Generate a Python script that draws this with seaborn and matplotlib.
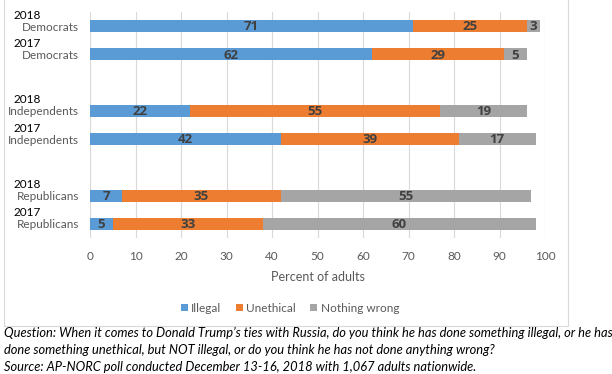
import matplotlib
matplotlib.use("Agg")
import matplotlib.pyplot as plt
import matplotlib.transforms as mtransforms
from matplotlib.patches import Patch, Rectangle
import seaborn as sns
import pandas as pd

# data (top to bottom), blanks are spacer rows
groups = ["Democrats", "Democrats", "", "Independents", "Independents", "", "Republicans", "Republicans"]
years = ["2018", "2017", "", "2018", "2017", "", "2018", "2017"]
illegal = [71, 62, None, 22, 42, None, 7, 5]
unethical = [25, 29, None, 55, 39, None, 35, 33]
nothing = [3, 5, None, 19, 17, None, 55, 60]

series = ["Illegal", "Unethical", "Nothing wrong"]
colors = ["#5B9BD5", "#ED7D31", "#A5A5A5"]

slots = [f"r{i}" for i in range(len(groups))]
df = pd.DataFrame({"slot": slots, "illegal": illegal, "unethical": unethical, "nothing": nothing}).dropna()
df["c1"] = df["illegal"]
df["c2"] = df["illegal"] + df["unethical"]
df["c3"] = df["c2"] + df["nothing"]

sns.set_theme(style="white")
plt.rcParams["font.family"] = ["Lato", "DejaVu Sans"]

fig = plt.figure(figsize=(6.12, 3.74), dpi=100)
ax = fig.add_axes([90 / 612, 1 - 238 / 374, 455 / 612, 226 / 374])

# stacked bars: draw cumulative totals back to front
for col, c in zip(["c3", "c2", "c1"], colors[::-1]):
    sns.barplot(data=df, x=col, y="slot", order=slots, orient="h", color=c,
                width=0.42, saturation=1, ax=ax, zorder=2, linewidth=0)

# segment labels
for _, row in df.iterrows():
    yi = slots.index(row["slot"])
    left = 0
    for key in ["illegal", "unethical", "nothing"]:
        v = row[key]
        ax.text(left + v / 2, yi + 0.03, f"{int(v)}", ha="center", va="center",
                fontsize=9.5, fontweight="bold", color="#404040", zorder=3,
                family=["Open Sans", "DejaVu Sans"])
        left += v

ax.set_xlim(0, 100)
ax.set_xticks(range(0, 101, 10))
ax.xaxis.grid(True, color="#D9D9D9", lw=0.8, zorder=0)
ax.yaxis.grid(False)
for s in ax.spines.values():
    s.set_visible(False)
ax.tick_params(axis="both", length=0, colors="#595959", labelsize=8.5)
ax.tick_params(axis="x", pad=9)
ax.tick_params(axis="y", pad=8)
ax.set_yticks(range(len(groups)))
ax.set_yticklabels(groups)
ax.set_ylabel("")
ax.set_xlabel("Percent of adults", fontsize=9, color="#595959", labelpad=7)

# year labels above each group name
trans = mtransforms.blended_transform_factory(fig.transFigure, ax.transData)
for i, y in enumerate(years):
    if y:
        ax.text(14 / 612, i - 0.39, y, transform=trans, ha="left", va="center",
                fontsize=8.5, color="#000000")

# legend
handles = [Patch(facecolor=c, edgecolor="none") for c in colors]
fig.legend(handles, series, loc="center", bbox_to_anchor=(290 / 612, 1 - 308 / 374),
           ncol=3, frameon=False, fontsize=8.5, handlelength=0.6, handleheight=0.6,
           handletextpad=0.3, columnspacing=1.2, labelcolor="#595959")

# chart frame
fig.patches.append(Rectangle((4 / 612, 1 - 326 / 374), 564 / 612, 0.2 + 326 / 374,
                             transform=fig.transFigure, fill=False, ec="#D9D9D9", lw=0.8))

caption = ("Question: When it comes to Donald Trump\u2019s ties with Russia, do you think he has done something illegal, or he has\n"
           "done something unethical, but NOT illegal, or do you think he has not done anything wrong?\n"
           "Source: AP-NORC poll conducted December 13-16, 2018 with 1,067 adults nationwide.")
fig.text(4 / 612, 1 - 327 / 374, caption, ha="left", va="top", fontsize=9.3,
         style="italic", color="#000000", linespacing=1.5)

fig.savefig("out.png", dpi=100)
